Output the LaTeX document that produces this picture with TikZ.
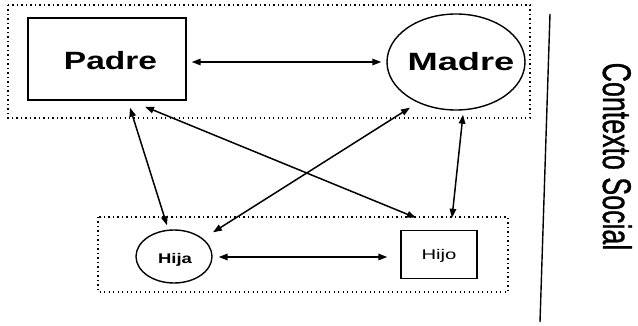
\documentclass[tikz,border=0pt]{standalone}
\usepackage{fontspec}
\setmainfont{Liberation Sans}
\usetikzlibrary{arrows.meta,shapes.geometric,calc}
\tikzset{
  member/.style={draw=black, line width=1.4pt, inner sep=0pt, fill=none},
  grp/.style={draw=black, line width=1.3pt, dash pattern=on 1.3pt off 3.2pt},
  rel/.style={line width=1.5pt, {Triangle[length=9pt,width=6.5pt]}-{Triangle[length=9pt,width=6.5pt]}},
  lbl/.style={inner sep=0pt, text depth=0pt}
}
\begin{document}
\begin{tikzpicture}[x=1pt,y=-1pt]
\useasboundingbox (0,0) rectangle (638,326);
% group boxes
\draw[grp] (8,5) rectangle (530,118);
\draw[grp] (98,217) rectangle (508,292);
% members
\node[member, rectangle, minimum width=158pt, minimum height=82pt] (padre) at (107,59) {};
\node[member, ellipse, minimum width=138pt, minimum height=96pt] (madre) at (456,62) {};
\node[member, ellipse, minimum width=76pt, minimum height=53pt] (hija) at (174,256.5) {};
\node[member, rectangle, minimum width=76pt, minimum height=48pt] (hijo) at (439,254.5) {};
% labels
\node[lbl, font=\fontsize{25}{25}\selectfont\bfseries] at ($(padre.center)+(3.5,10.5)$) [anchor=base] {\scalebox{1.34}[1]{Padre}};
\node[lbl, font=\fontsize{25}{25}\selectfont\bfseries] at ($(madre.center)+(5,8.5)$) [anchor=base] {\scalebox{1.45}[1]{Madre}};
\node[lbl, font=\fontsize{14}{14}\selectfont\bfseries] at ($(hija.center)+(1,6.5)$) [anchor=base] {\scalebox{1.32}[1]{Hija}};
\node[lbl, font=\fontsize{14}{14}\selectfont] at ($(hijo.center)+(0,5.5)$) [anchor=base] {\scalebox{1.45}[1]{Hijo}};
% relations
\draw[rel] ($(padre.east)+(5,3)$) -- ($(madre.west)+(-5,0)$);
\draw[rel] ($(hija.east)+(6,0.5)$) -- ($(hijo.west)+(-13,2.5)$);
\draw[rel] ($(padre.south)+(23,7)$) -- ($(hija.north)+(-7,-4)$);
\draw[rel] ($(padre.south)+(38,6)$) -- ($(hijo.north)+(-23,-12)$);
\draw[rel] ($(madre.south)+(-46,-3)$) -- ($(hija.north)+(39,3)$);
\draw[rel] ($(madre.south)+(7,4)$) -- ($(hijo.north)+(13,-12)$);
% context
\coordinate (ctxtop) at (550,14);
\coordinate (ctxbot) at (540,322);
\draw[line width=1.4pt] (ctxtop) -- (ctxbot);
\node[inner sep=0pt, anchor=base, rotate=-90, font=\fontsize{40}{40}\selectfont\addfontfeature{FakeBold=1}] (ctx) at (603,156.5) {\scalebox{0.67}[1]{Contexto Social}};
\end{tikzpicture}
\end{document}
